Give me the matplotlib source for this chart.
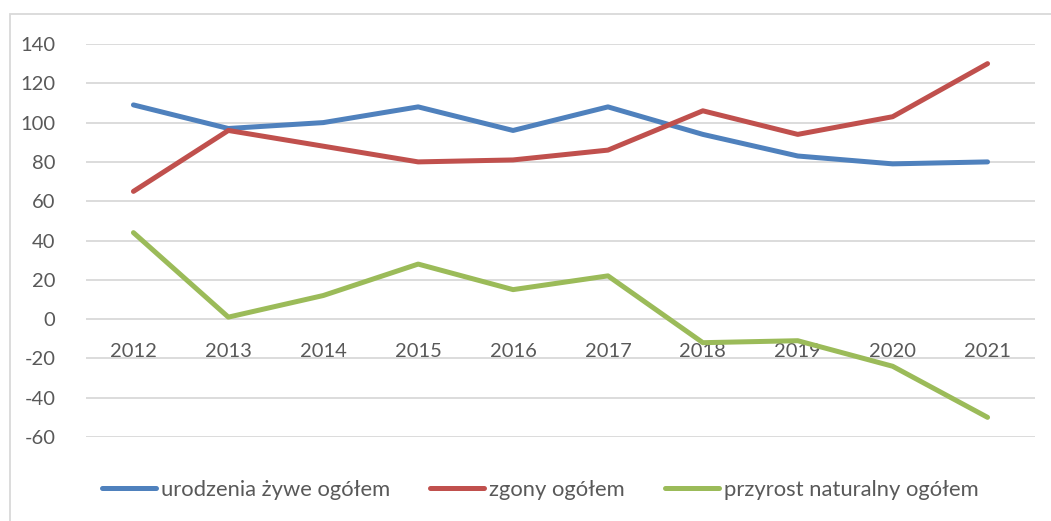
import numpy as np
import matplotlib
matplotlib.use('Agg')
import matplotlib.pyplot as plt
from matplotlib.patches import Rectangle

# values
years = ['2012', '2013', '2014', '2015', '2016', '2017', '2018', '2019', '2020', '2021']
urodzenia = [109, 97, 100, 108, 96, 108, 94, 83, 79, 80]
zgony = [65, 96, 88, 80, 81, 86, 106, 94, 103, 130]
przyrost = [44, 1, 12, 28, 15, 22, -12, -11, -24, -50]

series_names = ['urodzenia żywe ogółem', 'zgony ogółem', 'przyrost naturalny ogółem']
colors = ['#4F81BD', '#C0504D', '#9BBB59']

plt.rcParams['font.family'] = ['Lato', 'DejaVu Sans']
plt.rcParams['axes.unicode_minus'] = False
text_color = '#595959'

W, H = 1051, 521
fig = plt.figure(figsize=(W / 100, H / 100), dpi=100)

# light chart border like the office chart frame
fig.patches.append(Rectangle((10 / W, -0.1), 1.2, 1 - 14 / H + 0.1, transform=fig.transFigure,
                             fill=False, edgecolor='#d9d9d9', linewidth=1.3))

ax = fig.add_axes([86 / W, 1 - 437 / H, (1035 - 86) / W, (437 - 44) / H])

x = np.arange(len(years))
for vals, name, c in zip([urodzenia, zgony, przyrost], series_names, colors):
    ax.plot(x, vals, color=c, linewidth=3.6, label=name,
            solid_capstyle='round', solid_joinstyle='round', zorder=3)

ax.set_ylim(-60, 140)
ax.set_yticks(np.arange(-60, 141, 20))
ax.set_xlim(-0.5, len(years) - 0.5)
ax.grid(axis='y', color='#d9d9d9', linewidth=1.3)
ax.set_axisbelow(True)
for s in ax.spines.values():
    s.set_visible(False)

ax.set_xticks(x)
ax.set_xticklabels(years)
ax.spines['bottom'].set_position(('data', 0))
ax.tick_params(axis='both', length=0, labelsize=14.5, labelcolor=text_color)
ax.tick_params(axis='x', pad=17)
ax.tick_params(axis='y', pad=22)

leg = fig.legend(loc='center', bbox_to_anchor=(0.514, 1 - 490 / H), ncol=3, frameon=False,
                 fontsize=15.8, handlelength=2.46, handletextpad=0.25, columnspacing=1.8)
for t in leg.get_texts():
    t.set_color(text_color)

fig.savefig('out.png', dpi=100)
